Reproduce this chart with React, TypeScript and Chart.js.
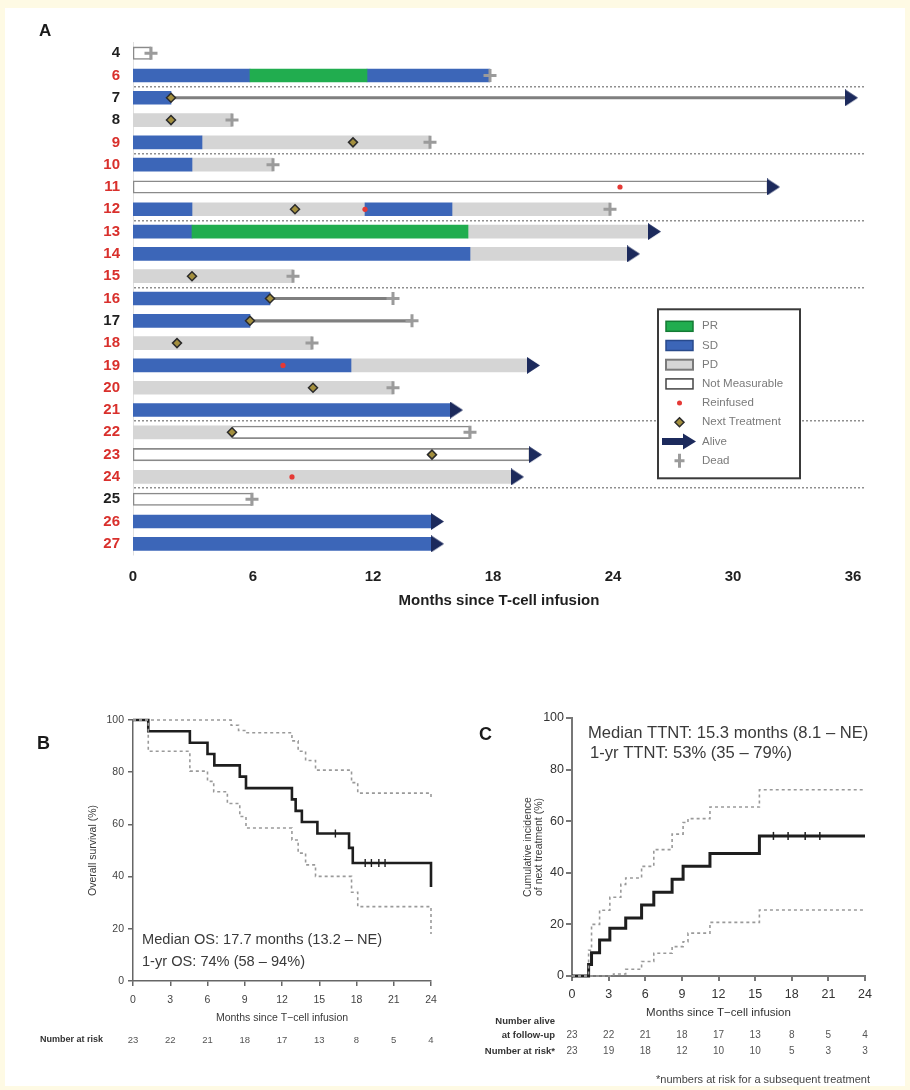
import React, { useEffect, useRef } from 'react';
import { Chart, registerables } from 'chart.js';

Chart.register(...registerables);

const FONT = "'Liberation Sans', Arial, Helvetica, sans-serif";
const SD_BLUE = '#3c66b8';
const PR_GREEN = '#21ad4f';
const PD_GRAY = '#d5d5d5';
const NAVY = '#1c2a5c';
const RED_LABEL = '#d9302c';
const DEAD_GRAY = '#9b9b9b';
const NT_FILL = '#a38f3e';
const REINF_RED = '#e53935';

// ---------------- Panel A data ----------------
const patients = ['4', '6', '7', '8', '9', '10', '11', '12', '13', '14', '15', '16', '17', '18', '19', '20', '21', '22', '23', '24', '25', '26', '27'];
const blackLabelPatients = ['4', '7', '8', '17', '25'];
const separatorAbove = ['7', '10', '13', '16', '22', '25'];
const xTicksA = [0, 6, 12, 18, 24, 30, 36];

const prSegments: [string, number, number][] = [
  ['6', 5.85, 11.7],
  ['13', 2.95, 16.75],
];
const sdSegments: [string, number, number][] = [
  ['6', 0, 5.85], ['6', 11.7, 17.85], ['7', 0, 1.9], ['9', 0, 3.45], ['10', 0, 2.95],
  ['12', 0, 2.95], ['12', 11.6, 15.95], ['13', 0, 2.95], ['14', 0, 16.85], ['16', 0, 6.85],
  ['17', 0, 5.85], ['19', 0, 10.9], ['21', 0, 15.9], ['26', 0, 14.95], ['27', 0, 14.95],
];
const pdSegments: [string, number, number][] = [
  ['8', 0, 4.95], ['9', 3.45, 14.85], ['10', 2.95, 7.0], ['12', 2.95, 11.6], ['12', 15.95, 23.85],
  ['13', 16.75, 25.8], ['14', 16.85, 24.75], ['15', 0, 8.0], ['18', 0, 8.95], ['19', 10.9, 19.75],
  ['20', 0, 13.0], ['22', 0, 4.95], ['24', 0, 18.95],
];
const nmSegments: [string, number, number][] = [
  ['4', 0, 0.9], ['11', 0, 31.75], ['22', 4.95, 16.85], ['23', 0, 19.85], ['25', 0, 5.95],
];
const followUpSegments: [string, number, number][] = [
  ['7', 1.9, 35.65], ['16', 6.85, 13.0], ['17', 5.85, 13.95],
];
const reinfused: [string, number][] = [['11', 24.35], ['12', 11.6], ['19', 7.5], ['24', 7.95]];
const nextTreatment: [string, number][] = [
  ['7', 1.9], ['8', 1.9], ['9', 11.0], ['12', 8.1], ['15', 2.95], ['16', 6.85],
  ['17', 5.85], ['18', 2.2], ['20', 9.0], ['22', 4.95], ['23', 14.95],
];
const alive: [string, number][] = [
  ['7', 35.65], ['11', 31.75], ['13', 25.8], ['14', 24.75], ['19', 19.75], ['21', 15.9],
  ['23', 19.85], ['24', 18.95], ['26', 14.95], ['27', 14.95],
];
const dead: [string, number][] = [
  ['4', 0.9], ['6', 17.85], ['8', 4.95], ['9', 14.85], ['10', 7.0], ['12', 23.85], ['15', 8.0],
  ['16', 13.0], ['17', 13.95], ['18', 8.95], ['20', 13.0], ['22', 16.85], ['25', 5.95],
];
const legendLabels = ['PR', 'SD', 'PD', 'Not Measurable', 'Reinfused', 'Next Treatment', 'Alive', 'Dead'];

// ---------------- Panel B data ----------------
const osTimes = [0, 1.23, 4.58, 6.0, 6.55, 8.6, 9.1, 12.8, 13.1, 13.6, 14.85, 17.4, 17.7, 24];
const osValues = [100, 95.7, 91.3, 87.0, 82.6, 78.3, 73.9, 69.6, 65.2, 60.9, 56.5, 51.0, 45.2, 36];
const osUpperTimes = [0, 7.9, 8.5, 9.0, 12.8, 13.3, 13.9, 14.7, 17.6, 18.1, 24];
const osUpperValues = [100, 98, 96, 95.1, 92, 88, 84.5, 80.8, 76, 72, 70];
const osLowerTimes = [0, 1.23, 4.58, 6.0, 6.5, 7.6, 8.6, 9.1, 12.8, 13.3, 13.9, 14.7, 17.6, 18.1, 24];
const osLowerValues = [100, 88, 80.4, 76.5, 72.5, 68, 63, 58.6, 54, 49, 44.5, 40.1, 34, 28.5, 18];
const osCensorTimes = [16.3, 18.7, 19.2, 19.8, 20.3];
const osCensorValues = [56.5, 45.2, 45.2, 45.2, 45.2];
const riskTimes = [0, 3, 6, 9, 12, 15, 18, 21, 24];
const osAtRisk = [23, 22, 21, 18, 17, 13, 8, 5, 4];

// ---------------- Panel C data ----------------
const ttntTimes = [0, 1.36, 1.6, 2.26, 3.1, 4.4, 5.7, 6.7, 8.2, 9.1, 11.3, 15.35, 24];
const ttntValues = [0, 4.5, 9, 14, 18.5, 22.5, 27.5, 32.5, 37.5, 42.5, 47.5, 54.3, 54.3];
const ttntUpperTimes = [0, 1.36, 1.6, 2.26, 3.1, 4.0, 4.4, 5.7, 6.7, 8.2, 9.1, 9.5, 11.3, 15.35, 24];
const ttntUpperValues = [0, 10, 20, 25.5, 30.5, 35.5, 38, 42.5, 49, 55, 59.5, 61, 65.5, 72.2, 72.2];
const ttntLowerTimes = [0, 3.4, 4.4, 5.7, 6.7, 8.2, 9.1, 9.5, 11.3, 15.35, 24];
const ttntLowerValues = [0, 0.8, 2.6, 5.6, 8.8, 11.4, 13.3, 16.6, 20.8, 25.6, 25.6];
const ttntCensorTimes = [16.5, 17.7, 19.1, 20.3];
const ttntCensorValues = [54.3, 54.3, 54.3, 54.3];
const aliveAtFollowUp = [23, 22, 21, 18, 17, 13, 8, 5, 4];
const ttntAtRisk = [23, 19, 18, 12, 10, 10, 5, 3, 3];

const toBar = (segs: [string, number, number][]) => segs.map(([p, s, e]) => ({ x: [s, e], y: p }));
const toPts = (pts: [string, number][]) => pts.map(([p, t]) => ({ x: t, y: p }));
const zip = (xs: number[], ys: number[]) => xs.map((x, i) => ({ x, y: ys[i] }));

function makeArrowImage(): HTMLCanvasElement {
  const w = 12, h = 17;
  const c = document.createElement('canvas');
  c.width = w * 2;
  c.height = h;
  const g = c.getContext('2d')!;
  g.fillStyle = NAVY;
  g.beginPath();
  g.moveTo(w - 1, 0);
  g.lineTo(2 * w, h / 2);
  g.lineTo(w - 1, h);
  g.closePath();
  g.fill();
  return c;
}

const legendPlugin = {
  id: 'swimLegend',
  afterDraw(chart: any) {
    const { ctx, chartArea } = chart;
    const bx = chartArea.left + 525;
    const by = chartArea.top + 267.3;
    const bw = 142, bh = 169;
    ctx.save();
    ctx.fillStyle = '#ffffff';
    ctx.fillRect(bx, by, bw, bh);
    ctx.strokeStyle = '#3a3a3a';
    ctx.lineWidth = 2;
    ctx.strokeRect(bx, by, bw, bh);
    const sx = bx + 8, sw = 27, sh = 10;
    const cx = sx + sw / 2;
    legendLabels.forEach((label, i) => {
      const y = by + 17 + i * 19.2;
      if (i <= 3) {
        const fills = [PR_GREEN, SD_BLUE, PD_GRAY, '#ffffff'];
        const strokes = ['#137a33', '#284a8c', '#7a7a7a', '#444'];
        ctx.fillStyle = fills[i];
        ctx.fillRect(sx, y - sh / 2, sw, sh);
        ctx.strokeStyle = strokes[i];
        ctx.lineWidth = i === 2 ? 2 : 1.5;
        ctx.strokeRect(sx, y - sh / 2, sw, sh);
      } else if (i === 4) {
        ctx.fillStyle = REINF_RED;
        ctx.beginPath();
        ctx.arc(cx, y, 2.5, 0, Math.PI * 2);
        ctx.fill();
      } else if (i === 5) {
        ctx.fillStyle = NT_FILL;
        ctx.strokeStyle = '#2b2b2b';
        ctx.lineWidth = 1.5;
        ctx.beginPath();
        ctx.moveTo(cx, y - 4.5);
        ctx.lineTo(cx + 4.5, y);
        ctx.lineTo(cx, y + 4.5);
        ctx.lineTo(cx - 4.5, y);
        ctx.closePath();
        ctx.fill();
        ctx.stroke();
      } else if (i === 6) {
        ctx.fillStyle = NAVY;
        ctx.fillRect(sx - 4, y - 3.5, 22, 7);
        ctx.beginPath();
        ctx.moveTo(sx + 17, y - 8);
        ctx.lineTo(sx + 30, y);
        ctx.lineTo(sx + 17, y + 8);
        ctx.closePath();
        ctx.fill();
      } else {
        ctx.strokeStyle = DEAD_GRAY;
        ctx.lineWidth = 3;
        ctx.beginPath();
        ctx.moveTo(cx, y - 7);
        ctx.lineTo(cx, y + 7);
        ctx.moveTo(cx - 5, y);
        ctx.lineTo(cx + 5, y);
        ctx.stroke();
      }
      ctx.fillStyle = '#7a7a7a';
      ctx.font = `11.5px ${FONT}`;
      ctx.textAlign = 'left';
      ctx.textBaseline = 'middle';
      ctx.fillText(label, bx + 44, y);
    });
    ctx.restore();
  },
};

function buildA(canvas: HTMLCanvasElement) {
  const arrowImg = makeArrowImage();
  const sepIdx = separatorAbove.map((p) => patients.indexOf(p));
  return new Chart(canvas, {
    type: 'bar',
    data: {
      labels: patients,
      datasets: [
        { type: 'scatter', label: 'Reinfused', data: toPts(reinfused), pointStyle: 'circle', pointRadius: 2.6, backgroundColor: REINF_RED, borderColor: REINF_RED, borderWidth: 0, order: 0 } as any,
        { type: 'scatter', label: 'Next Treatment', data: toPts(nextTreatment), pointStyle: 'rectRot', pointRadius: 4.5, backgroundColor: NT_FILL, borderColor: '#2b2b2b', borderWidth: 1.5, order: 0 } as any,
        { type: 'scatter', label: 'Alive', data: toPts(alive), pointStyle: arrowImg, order: 0 } as any,
        { type: 'scatter', label: 'Dead', data: toPts(dead), pointStyle: 'cross', pointRadius: 6.5, borderColor: DEAD_GRAY, borderWidth: 3, order: 1 } as any,
        { type: 'bar', label: 'PR', data: toBar(prSegments), backgroundColor: PR_GREEN, maxBarThickness: 13, order: 2 } as any,
        { type: 'bar', label: 'SD', data: toBar(sdSegments), backgroundColor: SD_BLUE, maxBarThickness: 13, order: 2 } as any,
        { type: 'bar', label: 'PD', data: toBar(pdSegments), backgroundColor: PD_GRAY, maxBarThickness: 13, order: 2 } as any,
        { type: 'bar', label: 'Not Measurable', data: toBar(nmSegments), backgroundColor: '#ffffff', borderColor: '#8a8a8a', borderWidth: 1.6, borderSkipped: false, maxBarThickness: 12.5, order: 2 } as any,
        { type: 'bar', label: 'Follow-up', data: toBar(followUpSegments), backgroundColor: '#7f7f7f', maxBarThickness: 2.5, order: 3 } as any,
      ],
    },
    options: {
      indexAxis: 'y',
      animation: false,
      responsive: false,
      events: [],
      datasets: { bar: { grouped: false, barPercentage: 1, categoryPercentage: 1 } } as any,
      layout: { padding: { left: 0, right: 45, top: 13.67, bottom: 5 } },
      plugins: { legend: { display: false }, tooltip: { enabled: false } },
      scales: {
        x: {
          type: 'linear',
          min: 0,
          max: 36.6,
          afterBuildTicks: (s: any) => { s.ticks = xTicksA.map((v) => ({ value: v })); },
          afterFit: (s: any) => { s.height = 60; },
          grid: { display: false, drawTicks: false },
          border: { display: false },
          ticks: { font: { family: FONT, size: 15, weight: 'bold' }, color: '#1f1f1f', padding: 13, maxRotation: 0 },
          title: { display: true, text: 'Months since T-cell infusion', font: { family: FONT, size: 15, weight: 'bold' }, color: '#1f1f1f', padding: { top: 0, bottom: 5 } },
        },
        y: {
          type: 'category',
          offset: true,
          afterFit: (s: any) => { s.width = 133; },
          grid: {
            offset: true,
            drawTicks: false,
            lineWidth: 1.5,
            color: (ctx: any) => (sepIdx.includes(ctx.index) ? '#8f8f8f' : 'rgba(0,0,0,0)'),
          },
          border: { display: true, color: '#e0e0e0', width: 1, dash: [2, 2] },
          ticks: {
            autoSkip: false,
            padding: 13,
            font: { family: FONT, size: 15, weight: 'bold' },
            color: (ctx: any) => (blackLabelPatients.includes(patients[ctx.index]) ? '#1f1f1f' : RED_LABEL),
          },
        },
      },
    } as any,
    plugins: [legendPlugin],
  });
}

function kmAxisOptions(axisColor: string, axisWidth: number) {
  return {
    grid: { drawOnChartArea: false, drawTicks: true, tickLength: 5, color: axisColor, lineWidth: axisWidth },
    border: { color: axisColor, width: axisWidth },
  };
}

function buildB(canvas: HTMLCanvasElement) {
  const ax = kmAxisOptions('#666', 1.5);
  return new Chart(canvas, {
    type: 'line',
    data: {
      datasets: [
        { label: 'Upper', data: zip(osUpperTimes, osUpperValues), stepped: 'before', borderColor: '#9a9a9a', borderDash: [3, 3], borderWidth: 1.6, pointRadius: 0, clip: false } as any,
        { label: 'Lower', data: zip(osLowerTimes, osLowerValues), stepped: 'before', borderColor: '#9a9a9a', borderDash: [3, 3], borderWidth: 1.6, pointRadius: 0, clip: false } as any,
        { label: 'OS', data: zip(osTimes, osValues), stepped: 'before', borderColor: '#1e1e1e', borderWidth: 2.6, pointRadius: 0, clip: false } as any,
        { type: 'scatter', label: 'Censored', data: zip(osCensorTimes, osCensorValues), pointStyle: 'line', rotation: 90, pointRadius: 4, borderColor: '#1e1e1e', borderWidth: 1.4 } as any,
      ],
    },
    options: {
      animation: false,
      responsive: false,
      events: [],
      layout: { padding: { left: 0, right: 24, top: 30, bottom: 29 } },
      plugins: { legend: { display: false }, tooltip: { enabled: false } },
      scales: {
        x: {
          type: 'linear', min: 0, max: 24,
          afterFit: (s: any) => { s.height = 50; },
          ...ax,
          ticks: { stepSize: 3, font: { family: FONT, size: 10.5 }, color: '#444', padding: 8, maxRotation: 0 },
          title: { display: true, text: 'Months since T\u2212cell infusion', font: { family: FONT, size: 10.5 }, color: '#3a3a3a', padding: { top: 0, bottom: 7 } },
        },
        y: {
          type: 'linear', min: 0, max: 100,
          afterFit: (s: any) => { s.width = 133; },
          ...ax,
          ticks: { stepSize: 20, font: { family: FONT, size: 10.5 }, color: '#444', padding: 4 },
          title: { display: true, text: 'Overall survival (%)', font: { family: FONT, size: 10.5 }, color: '#3a3a3a', padding: { top: 87, bottom: 0 } },
        },
      },
    } as any,
    plugins: [
      {
        id: 'annotB',
        afterDraw(chart: any) {
          const { ctx, chartArea, scales } = chart;
          ctx.save();
          ctx.fillStyle = '#3a3a3a';
          ctx.font = `14.6px ${FONT}`;
          ctx.textAlign = 'left';
          ctx.textBaseline = 'middle';
          ctx.fillText('Median OS: 17.7 months (13.2 \u2013 NE)', chartArea.left + 9, chartArea.bottom - 41);
          ctx.fillText('1-yr OS: 74% (58 \u2013 94%)', chartArea.left + 9, chartArea.bottom - 19);
          ctx.font = `bold 9px ${FONT}`;
          ctx.fillStyle = '#333';
          ctx.fillText('Number at risk', 40, 350);
          ctx.font = `9.5px ${FONT}`;
          ctx.fillStyle = '#555';
          ctx.textAlign = 'center';
          riskTimes.forEach((t, i) => ctx.fillText(String(osAtRisk[i]), scales.x.getPixelForValue(t), 350));
          ctx.restore();
        },
      },
    ],
  });
}

function buildC(canvas: HTMLCanvasElement) {
  const ax = kmAxisOptions('#777', 2);
  return new Chart(canvas, {
    type: 'line',
    data: {
      datasets: [
        { label: 'Upper', data: zip(ttntUpperTimes, ttntUpperValues), stepped: 'before', borderColor: '#9a9a9a', borderDash: [3, 3], borderWidth: 1.6, pointRadius: 0, clip: false } as any,
        { label: 'Lower', data: zip(ttntLowerTimes, ttntLowerValues), stepped: 'before', borderColor: '#9a9a9a', borderDash: [3, 3], borderWidth: 1.6, pointRadius: 0, clip: false } as any,
        { label: 'TTNT', data: zip(ttntTimes, ttntValues), stepped: 'before', borderColor: '#1e1e1e', borderWidth: 3, pointRadius: 0, clip: false } as any,
        { type: 'scatter', label: 'Censored', data: zip(ttntCensorTimes, ttntCensorValues), pointStyle: 'line', rotation: 90, pointRadius: 4, borderColor: '#1e1e1e', borderWidth: 1.5 } as any,
      ],
    },
    options: {
      animation: false,
      responsive: false,
      events: [],
      layout: { padding: { left: 0, right: 45, top: 28, bottom: 64 } },
      plugins: { legend: { display: false }, tooltip: { enabled: false } },
      scales: {
        x: {
          type: 'linear', min: 0, max: 24,
          afterFit: (s: any) => { s.height = 50; },
          ...ax,
          ticks: { stepSize: 3, font: { family: FONT, size: 12.5 }, color: '#333', padding: 6.5, maxRotation: 0 },
          title: { display: true, text: 'Months since T\u2212cell infusion', font: { family: FONT, size: 11.5 }, color: '#333', padding: { top: 0, bottom: 6 } },
        },
        y: {
          type: 'linear', min: 0, max: 100,
          afterFit: (s: any) => { s.width = 117; },
          ...ax,
          grid: { ...ax.grid, tickLength: 6 },
          ticks: { stepSize: 20, font: { family: FONT, size: 12.5 }, color: '#333', padding: 2 },
          title: { display: true, text: ['Cumulative incidence', 'of next treatment (%)'], font: { family: FONT, size: 10.5, lineHeight: 1.1 }, color: '#3a3a3a', padding: { top: 67, bottom: 0 } },
        },
      },
    } as any,
    plugins: [
      {
        id: 'annotC',
        afterDraw(chart: any) {
          const { ctx, chartArea, scales } = chart;
          ctx.save();
          ctx.fillStyle = '#3a3a3a';
          ctx.font = `16.6px ${FONT}`;
          ctx.textAlign = 'left';
          ctx.textBaseline = 'middle';
          ctx.fillText('Median TTNT: 15.3 months (8.1 \u2013 NE)', chartArea.left + 16, chartArea.top + 15);
          ctx.fillText('1-yr TTNT: 53% (35 \u2013 79%)', chartArea.left + 18, chartArea.top + 35);
          ctx.font = `bold 9.5px ${FONT}`;
          ctx.fillStyle = '#333';
          ctx.textAlign = 'right';
          ctx.fillText('Number alive', 100, 331);
          ctx.fillText('at follow-up', 100, 345);
          ctx.fillText('Number at risk*', 100, 361);
          ctx.font = `10px ${FONT}`;
          ctx.fillStyle = '#555';
          ctx.textAlign = 'center';
          riskTimes.forEach((t, i) => {
            const x = scales.x.getPixelForValue(t);
            ctx.fillText(String(aliveAtFollowUp[i]), x, 345);
            ctx.fillText(String(ttntAtRisk[i]), x, 361);
          });
          ctx.font = `11px ${FONT}`;
          ctx.fillStyle = '#444';
          ctx.textAlign = 'right';
          ctx.fillText('*numbers at risk for a subsequent treatment', 415, 390);
          ctx.restore();
        },
      },
    ],
  });
}

export default function App() {
  const refA = useRef<HTMLCanvasElement>(null);
  const refB = useRef<HTMLCanvasElement>(null);
  const refC = useRef<HTMLCanvasElement>(null);

  useEffect(() => {
    const charts: Chart[] = [];
    if (refA.current) charts.push(buildA(refA.current));
    if (refB.current) charts.push(buildB(refB.current));
    if (refC.current) charts.push(buildC(refC.current));
    return () => charts.forEach((c) => c.destroy());
  }, []);

  const panelLabel = (text: string, left: number, top: number, size: number) => (
    <div style={{ position: 'absolute', left, top, fontFamily: FONT, fontWeight: 'bold', fontSize: size, color: '#1a1a1a', lineHeight: 1 }}>{text}</div>
  );

  return (
    <div style={{ position: 'absolute', left: 0, top: 0, width: 910, height: 1090, background: '#fefae4', overflow: 'hidden' }}>
      <div style={{ position: 'absolute', left: 5, top: 8, width: 900, height: 1078, background: '#ffffff' }} />
      <canvas ref={refA} width={910} height={600} style={{ position: 'absolute', left: 0, top: 20 }} />
      <canvas ref={refB} width={455} height={370} style={{ position: 'absolute', left: 0, top: 690 }} />
      <canvas ref={refC} width={455} height={400} style={{ position: 'absolute', left: 455, top: 690 }} />
      {panelLabel('A', 39, 22, 17)}
      {panelLabel('B', 37, 734, 18)}
      {panelLabel('C', 479, 725, 18)}
    </div>
  );
}
